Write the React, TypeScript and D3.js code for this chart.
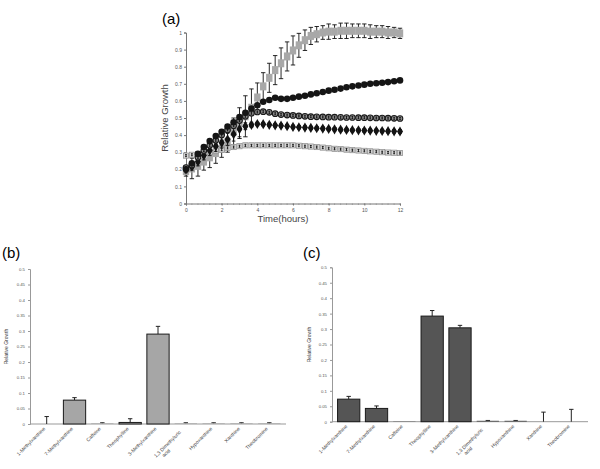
import { useEffect, useRef } from "react";
import * as d3 from "d3";

// (a) growth curves, sampled every 20 min
const hours = [
  0, 0.33, 0.67, 1, 1.33, 1.67, 2, 2.33, 2.67, 3, 3.33, 3.67, 4, 4.33, 4.67, 5, 5.33, 5.67, 6,
  6.33, 6.67, 7, 7.33, 7.67, 8, 8.33, 8.67, 9, 9.33, 9.67, 10, 10.33, 10.67, 11, 11.33, 11.67, 12,
];
const greySquares = [
  0.19, 0.205, 0.22, 0.245, 0.27, 0.295, 0.32, 0.36, 0.42, 0.47, 0.51, 0.56, 0.62, 0.685, 0.735,
  0.78, 0.82, 0.86, 0.895, 0.925, 0.955, 0.98, 0.99, 1.0, 1.005, 1.005, 1.01, 1.01, 1.01, 1.01,
  1.01, 1.005, 1.005, 1.005, 1.0, 1.0, 0.995,
];
const greySquaresErr = [
  0.03, 0.06, 0.06, 0.05, 0.06, 0.06, 0.05, 0.06, 0.08, 0.09, 0.12, 0.11, 0.085, 0.08, 0.085,
  0.085, 0.09, 0.085, 0.085, 0.07, 0.06, 0.05, 0.045, 0.04, 0.045, 0.04, 0.045, 0.045, 0.04,
  0.04, 0.04, 0.04, 0.035, 0.035, 0.035, 0.03, 0.03,
];
const blackCircles = [
  0.2, 0.235, 0.29, 0.33, 0.365, 0.395, 0.42, 0.45, 0.475, 0.505, 0.53, 0.555, 0.575, 0.595,
  0.605, 0.618, 0.612, 0.612, 0.618, 0.625, 0.63, 0.638, 0.645, 0.652, 0.66, 0.665, 0.672, 0.68,
  0.685, 0.69, 0.695, 0.7, 0.703, 0.706, 0.71, 0.715, 0.72,
];
const ringCircles = [
  0.21, 0.225, 0.27, 0.31, 0.34, 0.37, 0.4, 0.43, 0.455, 0.485, 0.51, 0.528, 0.535, 0.537, 0.533,
  0.525, 0.52, 0.517, 0.515, 0.512, 0.51, 0.508, 0.507, 0.506, 0.505, 0.505, 0.504, 0.503, 0.503,
  0.502, 0.502, 0.501, 0.5, 0.5, 0.499, 0.498, 0.497,
];
const diamonds = [
  0.2, 0.215, 0.245, 0.28, 0.31, 0.335, 0.355, 0.375, 0.405, 0.435, 0.452, 0.46, 0.465, 0.464,
  0.46, 0.457, 0.455, 0.452, 0.448, 0.446, 0.444, 0.442, 0.44, 0.438, 0.436, 0.434, 0.432, 0.43,
  0.429, 0.428, 0.427, 0.426, 0.425, 0.424, 0.423, 0.422, 0.421,
];
const diamondsErr = [
  0.02, 0.02, 0.025, 0.025, 0.03, 0.03, 0.03, 0.035, 0.04, 0.045, 0.02, 0.015, 0.01, 0.01, 0.01,
  0.01, 0.01, 0.01, 0.01, 0.01, 0.01, 0.01, 0.01, 0.01, 0.01, 0.01, 0.01, 0.01, 0.01, 0.01, 0.01,
  0.01, 0.01, 0.01, 0.01, 0.01, 0.01,
];
const smallSquares = [
  0.28, 0.285, 0.29, 0.295, 0.3, 0.31, 0.315, 0.325, 0.33, 0.335, 0.34, 0.34, 0.34, 0.34, 0.34,
  0.34, 0.34, 0.34, 0.34, 0.338, 0.335, 0.333, 0.33, 0.327, 0.323, 0.32, 0.318, 0.315, 0.312,
  0.31, 0.308, 0.305, 0.303, 0.3, 0.298, 0.297, 0.295,
];
const timeTicks = [0, 2, 4, 6, 8, 10, 12];
const growthTicks = [0, 0.1, 0.2, 0.3, 0.4, 0.5, 0.6, 0.7, 0.8, 0.9, 1];

// (b) and (c) single compound growth
const compounds = [
  "1-Methylxanthine",
  "7-Methylxanthine",
  "Caffeine",
  "Theophylline",
  "3-Methylxanthine",
  "1,3 Dimethyluric|acid",
  "Hypoxanthine",
  "Xanthine",
  "Theobromine",
];
const growthB = [0, 0.077, 0.002, 0.005, 0.29, 0.002, 0.002, 0.002, 0.002];
const errB = [0.024, 0.008, 0.002, 0.012, 0.025, 0.002, 0.002, 0.002, 0.002];
const growthC = [0.073, 0.043, 0.001, 0.342, 0.304, 0.003, 0.003, 0, 0];
const errC = [0.009, 0.008, 0, 0.018, 0.008, 0.001, 0.001, 0.031, 0.04];
const barTicks = [0, 0.05, 0.1, 0.15, 0.2, 0.25, 0.3, 0.35, 0.4, 0.45, 0.5];

const FONT = "'Liberation Sans', Arial, sans-serif";

const App = () => {
  const svgRef = useRef<SVGSVGElement>(null);

  useEffect(() => {
    const svg = d3.select(svgRef.current);
    svg.selectAll("*").remove();

    // ---------- panel (a) ----------
    const x = d3.scaleLinear().domain([0, 12]).range([186, 400]);
    const y = d3.scaleLinear().domain([0, 1]).range([203.5, 32.5]);
    const a = svg.append("g");

    a.append("text").attr("x", 162).attr("y", 24).attr("font-size", 15).text("(a)");

    const yAx = a
      .append("g")
      .attr("transform", `translate(${x(0)},0)`)
      .call(d3.axisLeft(y).tickValues(growthTicks).tickSize(2).tickFormat(d3.format("")));
    const xAx = a
      .append("g")
      .attr("transform", `translate(0,${y(0)})`)
      .call(d3.axisBottom(x).tickValues(timeTicks).tickSize(2).tickFormat(d3.format("d")));
    // minor ticks on time axis
    a.append("g")
      .selectAll("line")
      .data(hours)
      .join("line")
      .attr("x1", (d) => x(d))
      .attr("x2", (d) => x(d))
      .attr("y1", y(0))
      .attr("y2", y(0) + 1.3)
      .attr("stroke", "#777")
      .attr("stroke-width", 0.6);
    [yAx, xAx].forEach((g) => {
      g.select(".domain").attr("stroke", "#777");
      g.selectAll(".tick line").attr("stroke", "#777");
      g.selectAll(".tick text").attr("font-size", 5).attr("fill", "#555").attr("font-family", FONT);
    });
    yAx.selectAll(".tick text").attr("x", -4);
    xAx.selectAll(".tick text").attr("y", 5);

    a.append("text")
      .attr("transform", `translate(168,${y(0.5)}) rotate(-90)`)
      .attr("text-anchor", "middle")
      .attr("font-size", 9.5)
      .attr("fill", "#444")
      .text("Relative Growth");
    a.append("text")
      .attr("x", 283)
      .attr("y", 222)
      .attr("text-anchor", "middle")
      .attr("font-size", 9.5)
      .attr("fill", "#444")
      .text("Time(hours)");

    const whiskers = (vals: number[], errs: number[], cap = 2) => {
      const g = a.append("g").attr("stroke", "#111").attr("stroke-width", 0.9);
      vals.forEach((v, i) => {
        const cx = x(hours[i]);
        const e = errs[i];
        g.append("line").attr("x1", cx).attr("x2", cx).attr("y1", y(v - e)).attr("y2", y(v + e));
        [v - e, v + e].forEach((w) =>
          g.append("line").attr("x1", cx - cap).attr("x2", cx + cap).attr("y1", y(w)).attr("y2", y(w))
        );
      });
    };

    // light grey large squares
    whiskers(greySquares, greySquaresErr, 2.2);
    a.append("g")
      .selectAll("rect")
      .data(greySquares)
      .join("rect")
      .attr("x", (d, i) => x(hours[i]) - 3.2)
      .attr("y", (d) => y(d) - 4)
      .attr("width", 6.4)
      .attr("height", 8)
      .attr("fill", "#a8a8a8");

    // small outlined squares
    a.append("g")
      .selectAll("rect")
      .data(smallSquares)
      .join("rect")
      .attr("x", (d, i) => x(hours[i]) - 2.6)
      .attr("y", (d) => y(d) - 2.6)
      .attr("width", 5.2)
      .attr("height", 5.2)
      .attr("fill", "#d6d6d6")
      .attr("stroke", "#8a8a8a")
      .attr("stroke-width", 0.7);
    whiskers(smallSquares, smallSquares.map(() => 0.006), 0.9);

    // diamonds
    whiskers(diamonds, diamondsErr, 1.8);
    a.append("g")
      .selectAll("path")
      .data(diamonds)
      .join("path")
      .attr("transform", (d, i) => `translate(${x(hours[i])},${y(d)})`)
      .attr("d", d3.symbol(d3.symbolDiamond, 30)())
      .attr("fill", "#141414");
    a.append("g")
      .selectAll("circle")
      .data(diamonds)
      .join("circle")
      .attr("cx", (d, i) => x(hours[i]))
      .attr("cy", (d) => y(d))
      .attr("r", 2.4)
      .attr("fill", "#141414");

    // ringed circles
    a.append("g")
      .selectAll("circle")
      .data(ringCircles)
      .join("circle")
      .attr("cx", (d, i) => x(hours[i]))
      .attr("cy", (d) => y(d))
      .attr("r", 2.8)
      .attr("fill", "#8c8c8c")
      .attr("stroke", "#1a1a1a")
      .attr("stroke-width", 1.1);
    whiskers(ringCircles, ringCircles.map(() => 0.006), 0.8);

    // black circles
    a.append("g")
      .selectAll("circle")
      .data(blackCircles)
      .join("circle")
      .attr("cx", (d, i) => x(hours[i]))
      .attr("cy", (d) => y(d))
      .attr("r", 3.3)
      .attr("fill", "#151515");

    // ---------- panels (b) and (c) ----------
    const barPanel = (
      label: string,
      vals: number[],
      errs: number[],
      x0: number,
      x1: number,
      y0: number,
      y1: number,
      fill: string,
      titleX: number,
      axisTitleX: number
    ) => {
      const g = svg.append("g");
      const bx = d3.scaleBand().domain(compounds).range([x0, x1]).padding(0.2);
      const by = d3.scaleLinear().domain([0, 0.5]).range([y0, y1]);

      g.append("text").attr("x", titleX).attr("y", 258).attr("font-size", 15).text(label);

      const ya = g
        .append("g")
        .attr("transform", `translate(${x0},0)`)
        .call(d3.axisLeft(by).tickValues(barTicks).tickSize(2).tickFormat(d3.format("")));
      ya.select(".domain").attr("stroke", "#999");
      ya.selectAll(".tick line").attr("stroke", "#999");
      ya.selectAll(".tick text").attr("font-size", 4.3).attr("fill", "#555").attr("font-family", FONT);

      g.append("line")
        .attr("x1", x0)
        .attr("x2", x1)
        .attr("y1", y0)
        .attr("y2", y0)
        .attr("stroke", "#999");

      g.append("text")
        .attr("transform", `translate(${axisTitleX},${by(0.25)}) rotate(-90)`)
        .attr("text-anchor", "middle")
        .attr("font-size", 5)
        .attr("fill", "#333")
        .text("Relative Growth");

      // error whiskers (upper only)
      const eg = g.append("g").attr("stroke", "#222").attr("stroke-width", 1);
      compounds.forEach((c, i) => {
        if (errs[i] <= 0) return;
        const cx = bx(c)! + bx.bandwidth() / 2;
        eg.append("line").attr("x1", cx).attr("x2", cx).attr("y1", by(vals[i])).attr("y2", by(vals[i] + errs[i]));
        eg.append("line")
          .attr("x1", cx - 2.2)
          .attr("x2", cx + 2.2)
          .attr("y1", by(vals[i] + errs[i]))
          .attr("y2", by(vals[i] + errs[i]));
      });

      g.append("g")
        .selectAll("rect")
        .data(vals)
        .join("rect")
        .attr("x", (d, i) => bx(compounds[i])!)
        .attr("y", (d) => by(d))
        .attr("width", bx.bandwidth())
        .attr("height", (d) => y0 - by(d))
        .attr("fill", fill)
        .attr("stroke", "#1a1a1a")
        .attr("stroke-width", (d) => (d > 0.004 ? 1 : 0));

      // rotated category labels (explicit -45deg matrix)
      const k = Math.SQRT1_2;
      compounds.forEach((c) => {
        const cx = bx(c)! + bx.bandwidth() / 2;
        const lines = c.split("|");
        const t = g
          .append("text")
          .attr("transform", `matrix(${k},${-k},${k},${k},${cx - 1},${y0 + 5})`)
          .attr("font-size", 5)
          .attr("fill", "#444")
          .attr("font-family", FONT);
        if (lines.length === 1) {
          t.attr("text-anchor", "end").text(c);
        } else {
          const w = lines[0].length * 2.55;
          t.append("tspan").attr("x", -w).attr("y", 0).text(lines[0]);
          t.append("tspan").attr("x", -w + 6).attr("y", 5.5).text(lines[1]);
        }
      });
    };

    barPanel("(b)", growthB, errB, 30, 286, 424, 269, "#a6a6a6", 2, 8);
    barPanel("(c)", growthC, errC, 332, 588, 421.7, 267.3, "#555555", 303, 311);
  }, []);

  return (
    <div style={{ position: "absolute", left: 0, top: 0 }}>
      <svg
        ref={svgRef}
        width={600}
        height={469}
        style={{ display: "block", background: "#fff", fontFamily: FONT }}
      />
    </div>
  );
};

export default App;
